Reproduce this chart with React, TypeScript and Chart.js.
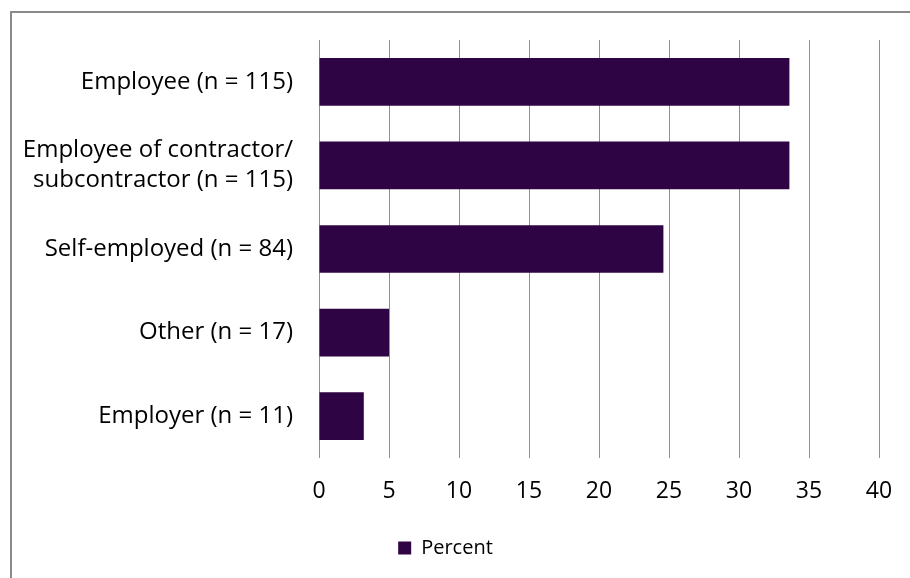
import React, { useEffect, useRef } from "react";
import { Chart, registerables } from "chart.js";

Chart.register(...registerables);

const categories: (string | string[])[] = [
  "Employee (n = 115)",
  ["Employee of contractor/", "subcontractor (n = 115)"],
  "Self-employed (n = 84)",
  "Other (n = 17)",
  "Employer (n = 11)",
];
const percentValues = [33.6, 33.6, 24.6, 5.0, 3.2];
const seriesName = "Percent";
const axisMin = 0;
const axisMax = 40;
const axisStep = 5;

const FONT = "'Open Sans', Lato, sans-serif";
const BAR_COLOR = "#2e0444";
const GRID_COLOR = "#8f8f8f";

export default function App() {
  const canvasRef = useRef<HTMLCanvasElement | null>(null);

  useEffect(() => {
    document.body.style.margin = "0";
    const canvas = canvasRef.current;
    if (!canvas) return;
    const chart = new Chart(canvas, {
      type: "bar",
      data: {
        labels: categories,
        datasets: [
          {
            label: seriesName,
            data: percentValues,
            backgroundColor: BAR_COLOR,
            borderWidth: 0,
            categoryPercentage: 1,
            barPercentage: 0.571,
          },
        ],
      },
      options: {
        indexAxis: "y",
        animation: false,
        responsive: false,
        devicePixelRatio: 1,
        layout: { padding: { left: 12, top: 40, right: 31, bottom: 10 } },
        plugins: {
          tooltip: { enabled: false },
          legend: {
            position: "bottom",
            labels: {
              color: "#000",
              font: { family: FONT, size: 20 },
              boxWidth: 13,
              boxHeight: 13,
              padding: 10,
            },
          },
        },
        scales: {
          x: {
            min: axisMin,
            max: axisMax,
            grid: { color: GRID_COLOR, lineWidth: 1, drawTicks: false },
            border: { display: false },
            ticks: {
              stepSize: axisStep,
              color: "#000",
              font: { family: FONT, size: 23 },
              padding: 20,
            },
            afterFit: (s: any) => {
              s.height = 70;
              s.paddingLeft = 0;
              s.paddingRight = 0;
            },
          },
          y: {
            grid: { display: false, drawTicks: false },
            border: { display: false },
            ticks: {
              color: "#000",
              font: { family: FONT, size: 24, lineHeight: 1.25 },
              padding: 26,
            },
            afterFit: (s: any) => {
              s.width = 307;
              s.paddingTop = 0;
              s.paddingBottom = 0;
            },
          },
        },
      },
    });
    return () => chart.destroy();
  }, []);

  return (
    <div style={{ position: "relative", width: 910, height: 578, overflow: "hidden", background: "#fff" }}>
      <div
        style={{
          position: "absolute",
          left: 10,
          top: 11,
          width: 960,
          height: 640,
          border: "2px solid #8a8a8a",
          boxSizing: "border-box",
        }}
      />
      <canvas ref={canvasRef} width={910} height={578} style={{ position: "absolute", left: 0, top: 0 }} />
    </div>
  );
}
